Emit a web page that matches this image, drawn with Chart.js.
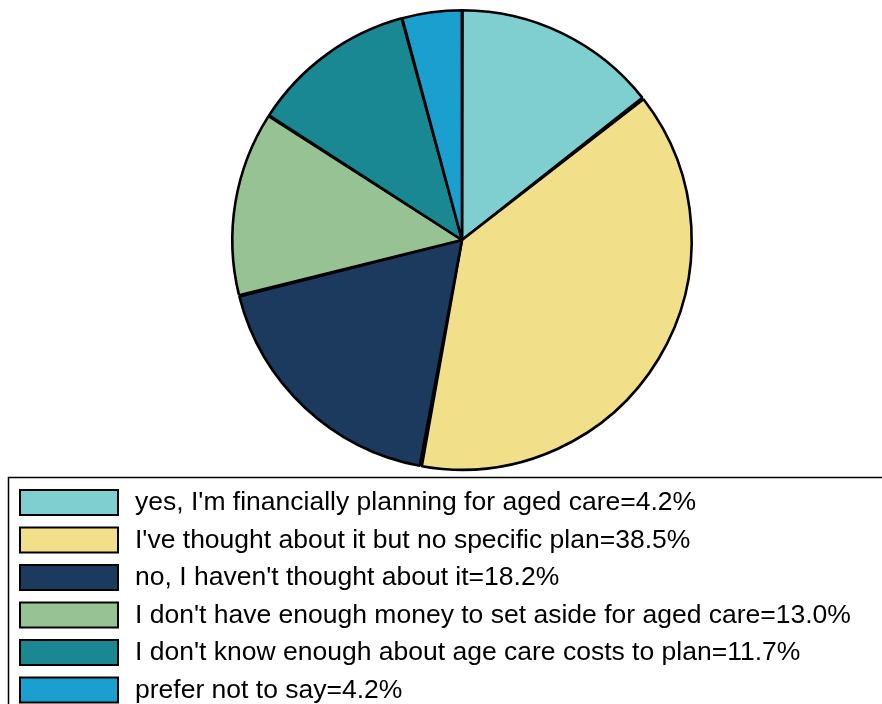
<!DOCTYPE html>
<html>
<head>
<meta charset="utf-8">
<script src="https://cdn.jsdelivr.net/npm/chart.js@4.4.1/dist/chart.umd.min.js"></script>
<style>
  html, body { margin: 0; padding: 0; background: #fff; overflow: hidden; }
  #wrap { position: relative; width: 882px; height: 704px; }
</style>
</head>
<body>
<div id="wrap"><canvas id="agedCareChart" width="882" height="704"></canvas></div>
<script>
// survey answers, legend text as printed
var labels = [
	"yes, I'm financially planning for aged care=4.2%",
	"I've thought about it but no specific plan=38.5%",
	"no, I haven't thought about it=18.2%",
	"I don't have enough money to set aside for aged care=13.0%",
	"I don't know enough about age care costs to plan=11.7%",
	"prefer not to say=4.2%"
];
// slice sizes (%)
var values = [14.4, 38.5, 18.2, 13.0, 11.7, 4.2];
var colors = ["#80cfd0", "#f1df8a", "#1b3a5e", "#97c294", "#1a8893", "#1b9fce"];

// boxed legend underneath the pie
var boxLegend = {
	id: 'boxLegend',
	afterDraw: function (chart) {
		var ctx = chart.ctx;
		var ds = chart.data.datasets[0];
		ctx.save();
		ctx.strokeStyle = "#000";
		ctx.lineWidth = 1.5;
		ctx.strokeRect(8.5, 477.5, 900, 300);

		ctx.font = "26.5px 'Liberation Sans', Arial, sans-serif";
		ctx.textBaseline = "middle";
		chart.data.labels.forEach(function (txt, i) {
			var y = 490 + i * 37.5;
			ctx.fillStyle = ds.backgroundColor[i];
			ctx.fillRect(20, y, 98, 25);
			ctx.lineWidth = 2;
			ctx.strokeRect(20, y, 98, 25);
			ctx.fillStyle = "#000";
			ctx.fillText(txt, 135, y + 13);
		});
		ctx.restore();
	}
};

var agedCareChart = new Chart(document.getElementById('agedCareChart'), {
	type: 'pie',
	data: {
		labels: labels,
		datasets: [{
			data: values,
			backgroundColor: colors,
			borderColor: "#000000",
			borderWidth: 2.6,
			spacing: 1.2
		}]
	},
	options: {
		responsive: false,
		animation: false,
		layout: { padding: { top: 9, bottom: 233, left: 42, right: 0 } },
		plugins: {
			legend: { display: false },
			tooltip: { enabled: false }
		}
	},
	plugins: [boxLegend]
});
</script>
</body>
</html>
